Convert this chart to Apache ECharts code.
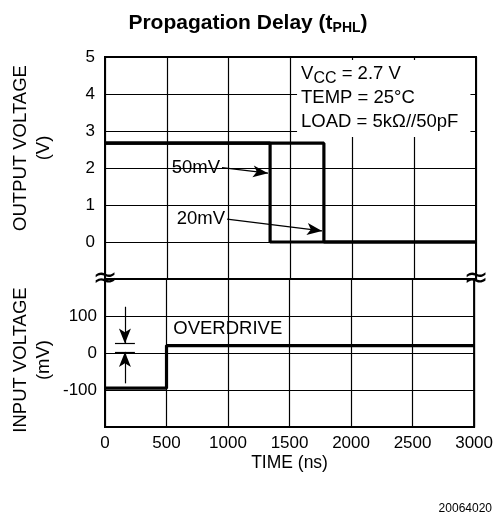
<!DOCTYPE html>
<html><head><meta charset="utf-8">
<script src="https://cdn.jsdelivr.net/npm/echarts@6/dist/echarts.min.js"></script>
<style>html,body{margin:0;padding:0;background:#fff}#c{width:496px;height:526px}</style>
</head><body><div id="c"></div>
<script>
// ---- data ----
const timeRange = [0, 3000];
const timeInterval = 500;
const outRange = [-1, 5];          // -1 is the axis break
const inRange = [-200, 200];        // +/-200 are break/frame only
const out50mV = [[0, 2.67], [1335, 2.67], [1335, 0], [3000, 0]];
const out20mV = [[0, 2.67], [1770, 2.67], [1770, 0], [3000, 0]];
const inputMV = [[0, -95], [500, -95], [500, 20], [3000, 20]];
const arrow50 = [[946, 2.01], [1318, 1.86]];
const arrow20 = [[987, 0.62], [1755, 0.30]];
const overdriveLevels = [26, 3];
const conditions = ['V', 'CC', ' = 2.7 V', 'TEMP = 25°C', 'LOAD = 5kΩ//50pF'];

const FONT = '"Liberation Sans", Arial, Helvetica, sans-serif';
const TXT = 18.5;
const TICK = 17;
const chart = echarts.init(document.getElementById('c'), null, {renderer: 'canvas'});

const thin = {color: '#000', width: 1.2};
const axisCommon = {
  axisLine: {show: false}, axisTick: {show: false},
  splitLine: {show: true, lineStyle: thin}
};

chart.setOption({
  animation: false,
  backgroundColor: '#fff',
  textStyle: {fontFamily: FONT, color: '#000'},
  title: {
    text: '{b|Propagation Delay (t}{s|PHL}{b|)}',
    left: 'center', top: 4,
    textStyle: {
      rich: {
        b: {fontFamily: FONT, fontSize: 21, fontWeight: 'bold', color: '#000', lineHeight: 28},
        s: {fontFamily: FONT, fontSize: 14, fontWeight: 'bold', color: '#000', padding: [11, 0, 0, 0], lineHeight: 28}
      }
    }
  },
  grid: [
    {left: 105, right: 20, top: 57, height: 222, show: true, borderColor: '#000', borderWidth: 2, backgroundColor: 'transparent'},
    {left: 105, right: 20, top: 279, height: 148, show: true, borderColor: '#000', borderWidth: 2, backgroundColor: 'transparent'}
  ],
  xAxis: [
    Object.assign({gridIndex: 0, type: 'value', min: timeRange[0], max: timeRange[1], interval: timeInterval,
      axisLabel: {show: false}}, axisCommon),
    Object.assign({gridIndex: 1, type: 'value', min: timeRange[0], max: timeRange[1], interval: timeInterval,
      axisLabel: {show: true, fontSize: TICK, color: '#000', fontFamily: FONT, margin: 8, formatter: v => String(v)},
      name: 'TIME (ns)', nameLocation: 'middle', nameGap: 27,
      nameTextStyle: {fontSize: TXT - 1, color: '#000', fontFamily: FONT}}, axisCommon)
  ],
  yAxis: [
    Object.assign({gridIndex: 0, type: 'value', min: outRange[0], max: outRange[1], interval: 1,
      axisLabel: {fontSize: TICK, color: '#000', fontFamily: FONT, margin: 10,
        formatter: v => v < 0 ? '' : String(v)}}, axisCommon),
    Object.assign({gridIndex: 1, type: 'value', min: inRange[0], max: inRange[1], interval: 100,
      axisLabel: {fontSize: TICK, color: '#000', fontFamily: FONT, margin: 8,
        formatter: v => Math.abs(v) >= 200 ? '' : String(v)}}, axisCommon)
  ],
  series: [
    {
      type: 'line', xAxisIndex: 0, yAxisIndex: 0, data: out50mV, symbol: 'none',
      lineStyle: {color: '#000', width: 3.2}, z: 5,
      markLine: {
        silent: true, symbol: ['none', 'arrow'], symbolSize: [9, 15],
        lineStyle: {color: '#000', width: 1.2, type: 'solid'}, label: {show: false},
        itemStyle: {color: '#000'},
        data: [[{coord: arrow50[0]}, {coord: arrow50[1]}]]
      },
      markPoint: {
        silent: true, symbol: 'circle', symbolSize: 0,
        data: [
          {coord: arrow50[0], label: {show: true, position: 'left', distance: 2, formatter: '50mV', fontSize: TXT, color: '#000', fontFamily: FONT}},
          {coord: [timeRange[0], outRange[0]], label: {show: true, position: 'inside', formatter: '≈', fontSize: 30, color: '#000', fontFamily: '"DejaVu Sans", sans-serif'}},
          {coord: [timeRange[1], outRange[0]], label: {show: true, position: 'inside', formatter: '≈', fontSize: 30, color: '#000', fontFamily: '"DejaVu Sans", sans-serif'}}
        ]
      }
    },
    {
      type: 'line', xAxisIndex: 0, yAxisIndex: 0, data: out20mV, symbol: 'none',
      lineStyle: {color: '#000', width: 3.2}, z: 5,
      markLine: {
        silent: true, symbol: ['none', 'arrow'], symbolSize: [9, 15],
        lineStyle: {color: '#000', width: 1.2, type: 'solid'}, label: {show: false},
        itemStyle: {color: '#000'},
        data: [[{coord: arrow20[0]}, {coord: arrow20[1]}]]
      },
      markPoint: {
        silent: true, symbol: 'circle', symbolSize: 0,
        data: [
          {coord: arrow20[0], label: {show: true, position: 'left', distance: 2, formatter: '20mV', fontSize: TXT, color: '#000', fontFamily: FONT}}
        ]
      },
      markArea: {
        silent: true,
        itemStyle: {color: '#fff', borderWidth: 0},
        label: {
          show: true, position: 'insideTopLeft', distance: 0, offset: [4, 2],
          formatter: '{a|' + conditions[0] + '}{s|' + conditions[1] + '}{a|' + conditions[2] + '}\n{a|' + conditions[3] + '}\n{a|' + conditions[4] + '}',
          rich: {
            a: {fontSize: TXT, color: '#000', fontFamily: FONT, lineHeight: 24},
            s: {fontSize: 16, color: '#000', fontFamily: FONT, lineHeight: 24, padding: [10, 0, 0, 0]}
          }
        },
        data: [[{coord: [1553, 4.92]}, {coord: [2955, 2.84]}]]
      }
    },
    {
      type: 'line', xAxisIndex: 1, yAxisIndex: 1, data: inputMV, symbol: 'none',
      lineStyle: {color: '#000', width: 3.2}, z: 5,
      markLine: {
        silent: true, symbol: ['none', 'arrow'], symbolSize: [9, 15],
        lineStyle: {color: '#000', width: 1.2, type: 'solid'}, label: {show: false},
        itemStyle: {color: '#000'},
        data: [
          [{coord: [162, 125]}, {coord: [162, overdriveLevels[0]]}],
          [{coord: [162, -82]}, {coord: [162, overdriveLevels[1]]}],
          [{coord: [81, overdriveLevels[0]], symbol: 'none'}, {coord: [243, overdriveLevels[0]], symbol: 'none'}],
          [{coord: [81, overdriveLevels[1]], symbol: 'none'}, {coord: [243, overdriveLevels[1]], symbol: 'none'}]
        ]
      },
      markPoint: {
        silent: true, symbol: 'circle', symbolSize: 0,
        data: [
          {coord: [555, 65], label: {show: true, position: 'right', distance: 0, formatter: 'OVERDRIVE', fontSize: TXT, color: '#000', fontFamily: FONT}}
        ]
      }
    }
  ],
  graphic: [
    {type: 'text', x: 32, y: 148, rotation: Math.PI / 2,
      style: {text: 'OUTPUT VOLTAGE\n(V)', fontSize: TXT, fontFamily: FONT, fill: '#000', align: 'center', verticalAlign: 'middle', lineHeight: 23}},
    {type: 'text', x: 32, y: 360, rotation: Math.PI / 2,
      style: {text: 'INPUT VOLTAGE\n(mV)', fontSize: TXT, fontFamily: FONT, fill: '#000', align: 'center', verticalAlign: 'middle', lineHeight: 23}},
    {type: 'text', x: 492, y: 509,
      style: {text: '20064020', fontSize: 12, fontFamily: FONT, fill: '#000', align: 'right', verticalAlign: 'middle'}}
  ]
});
</script>
</body></html>
